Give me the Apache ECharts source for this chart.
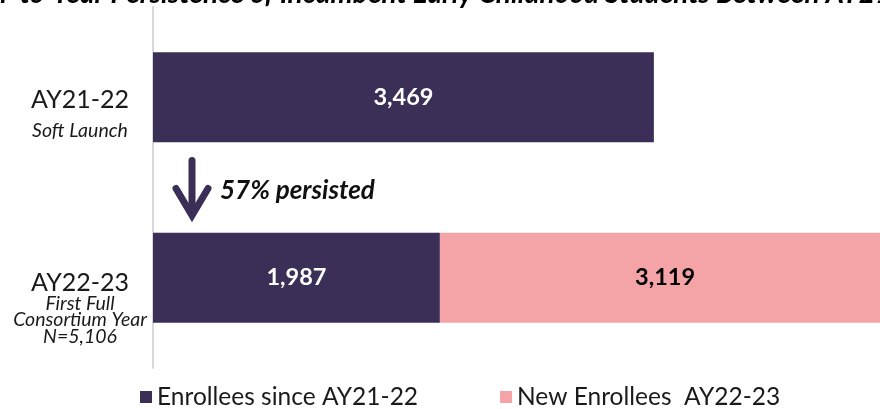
<!DOCTYPE html>
<html>
<head>
<meta charset="utf-8">
<script src="https://cdn.jsdelivr.net/npm/echarts@6/dist/echarts.min.js"></script>
<style>html,body{margin:0;padding:0;background:#fff}#c{width:880px;height:409px}</style>
</head>
<body>
<div id="c"></div>
<script>
const categories = ['AY21-22', 'AY22-23'];
const subtitles = [['Soft Launch'], ['First Full', 'Consortium Year', 'N=5,106']];
const seriesNames = ['Enrollees since AY21-22', 'New Enrollees  AY22-23'];
const returning = [3469, 1987];
const newEnrollees = [null, 3119];
const persistedText = '57% persisted';
const titleText = 'Year-to-Year Persistence of Incumbent Early Childhood Students Between AY21-22 and AY22-23';

const DARK = '#3b2f57';
const PINK = '#f4a4a7';
const FONT = 'Lato, "Noto Sans", sans-serif';

const chart = echarts.init(document.getElementById('c'));

function fmtNum(v) { return v == null ? '' : v.toLocaleString('en-US'); }

chart.setOption({
  animation: false,
  textStyle: { fontFamily: FONT },
  title: {
    text: titleText,
    left: -47, top: -25,
    textStyle: { fontFamily: FONT, fontSize: 28, fontWeight: 'bold', fontStyle: 'italic', color: '#000' }
  },
  grid: { left: 153, right: 0, top: 7, bottom: 41, containLabel: false },
  xAxis: { type: 'value', min: 0, max: 5035, show: false },
  yAxis: {
    type: 'category', data: categories, inverse: true,
    axisLine: { show: true, lineStyle: { color: '#d9d9d9', width: 2 } },
    axisTick: { show: false },
    axisLabel: {
      margin: 73, align: 'center', verticalAlign: 'middle',
      formatter: function (val, idx) {
        const subs = subtitles[idx];
        const sp = idx === 0 ? 'sp0' : 'sp1';
        const a = idx === 0 ? 'a0' : 'a1';
        const b = idx === 0 ? 'b0' : 'b1';
        return '{' + sp + '| }\n{' + a + '|' + val + '}\n' + subs.map(s => '{' + b + '|' + s + '}').join('\n');
      },
      rich: {
        sp0: { lineHeight: 38, fontSize: 10 },
        sp1: { lineHeight: 59, fontSize: 10 },
        a0: { fontSize: 25, lineHeight: 28, color: '#1a1a1a', fontFamily: FONT, align: 'center' },
        a1: { fontSize: 25, lineHeight: 25, color: '#1a1a1a', fontFamily: FONT, align: 'center' },
        b0: { fontSize: 19.5, lineHeight: 32, fontStyle: 'italic', color: '#1a1a1a', fontFamily: FONT, align: 'center' },
        b1: { fontSize: 19.5, lineHeight: 16.5, fontStyle: 'italic', color: '#1a1a1a', fontFamily: FONT, align: 'center' }
      }
    }
  },
  legend: {
    data: seriesNames,
    left: 135, top: 379,
    itemWidth: 12, itemHeight: 12, itemGap: 82,
    icon: 'rect',
    textStyle: { fontFamily: FONT, fontSize: 24.5, lineHeight: 26, color: '#1a1a1a' }
  },
  series: [
    {
      name: seriesNames[0], type: 'bar', stack: 'total', data: returning, barWidth: 90, clip: false,
      itemStyle: { color: DARK },
      label: { show: true, position: 'inside', formatter: p => fmtNum(p.value), color: '#fff', fontSize: 23.5, fontWeight: 'bold', fontFamily: FONT }
    },
    {
      name: seriesNames[1], type: 'bar', stack: 'total', data: newEnrollees, barWidth: 90, clip: false,
      itemStyle: { color: PINK },
      label: { show: true, position: 'inside', formatter: p => fmtNum(p.value), color: '#000', fontSize: 23.5, fontWeight: 'bold', fontFamily: FONT }
    }
  ]
});

// annotation arrow between the two categories
const y0 = chart.convertToPixel({ yAxisIndex: 0 }, categories[0]);
const y1 = chart.convertToPixel({ yAxisIndex: 0 }, categories[1]);
const ax = chart.convertToPixel({ xAxisIndex: 0 }, 0);
const mid = (y0 + y1) / 2;
const arrowX = ax + 39;
chart.setOption({
  graphic: [
    { type: 'line', shape: { x1: arrowX, y1: mid - 27, x2: arrowX, y2: mid + 26 }, style: { stroke: DARK, lineWidth: 7, lineCap: 'round' } },
    { type: 'polyline', shape: { points: [[arrowX - 16, mid + 1], [arrowX, mid + 28], [arrowX + 16, mid + 1]] }, style: { stroke: DARK, lineWidth: 7, lineCap: 'round', lineJoin: 'miter', fill: null } },
    { type: 'text', x: arrowX + 28, y: mid + 3, style: { text: persistedText, font: 'italic bold 26px ' + FONT, fill: '#111', verticalAlign: 'middle', align: 'left' } }
  ]
});
</script>
</body>
</html>
